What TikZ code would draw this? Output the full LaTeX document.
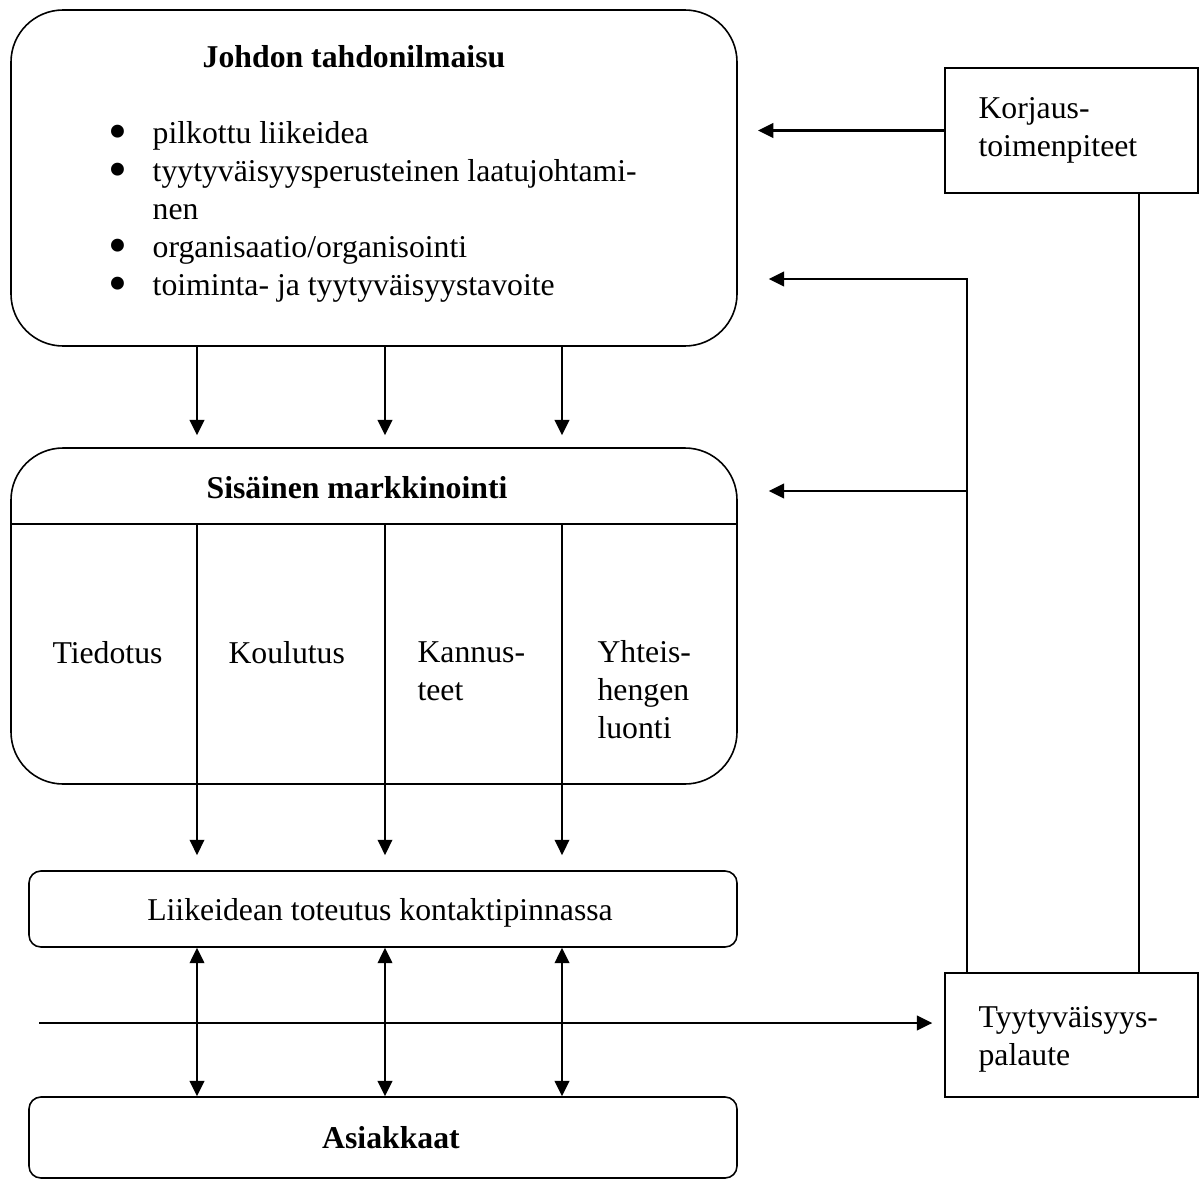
\documentclass[tikz,border=0pt]{standalone}
\usepackage{fontspec}
\usepackage{graphicx}
\setmainfont{Liberation Serif}
\usetikzlibrary{arrows.meta,fit}
\newcommand\mlines[1]{\begin{tabular}[t]{@{}l@{}}#1\end{tabular}}
\newcommand\bul{\makebox[16.7pt][l]{\smash{\raisebox{-2.3pt}{\scalebox{1.7}{\textbullet}}}}}
\begin{document}
\begin{tikzpicture}[x=0.378pt,y=-0.378pt,
  font=\fontsize{12}{14.4}\selectfont,
  box/.style={draw,line width=0.6pt,inner sep=0pt},
  bigbox/.style={box,rounded corners=19.7pt},
  smallbox/.style={box,rounded corners=4.5pt},
  txt/.style={inner sep=0pt,anchor=base west},
  ctxt/.style={inner sep=0pt,anchor=base},
  arr/.style={line width=0.8pt,-{Triangle[length=5.8pt,width=5.5pt]}},
  darr/.style={line width=0.8pt,{Triangle[length=5.8pt,width=5.5pt]}-{Triangle[length=5.8pt,width=5.5pt]}},
  conn/.style={line width=0.6pt}]
\useasboundingbox (0,0) rectangle (1203,1183);

% column positions of the three vertical flows
\coordinate (c1) at (197,0);
\coordinate (c2) at (385,0);
\coordinate (c3) at (562,0);

% management box
\node[bigbox,fit={(11,10)(737,346)}] (johto) {};
\node[ctxt,font=\fontsize{12}{14.4}\selectfont\bfseries] (johtoT) at (354,67) {Johdon tahdonilmaisu};
\node[txt] (lista) at (108,143) {\begin{tabular}[t]{@{}l@{}l@{}}
\bul & pilkottu liikeidea\\
\bul & tyytyväisyysperusteinen laatujohtami-\\
 & nen\\
\bul & organisaatio/organisointi\\
\bul & toiminta- ja tyytyväisyystavoite
\end{tabular}};

% internal marketing box
\node[bigbox,fit={(11,448)(737,784)}] (sm) {};
\coordinate (div) at (0,524);
\draw[conn] (sm.west |- div) -- (sm.east |- div);
\node[ctxt,font=\fontsize{12}{14.4}\selectfont\bfseries] (smT) at (357,498) {Sisäinen markkinointi};
\node[txt] (k1) at (52,663) {Tiedotus};
\node[txt] (k2) at (228,663) {Koulutus};
\node[txt] (k3) at (417,662) {\mlines{Kannus-\\teet}};
\node[txt] (k4) at (597,662) {\mlines{Yhteis-\\hengen\\luonti}};

% implementation and customers
\node[smallbox,fit={(29,871)(737,947)}] (lk) {};
\node[ctxt] (lkT) at (380,920) {Liikeidean toteutus kontaktipinnassa};
\node[smallbox,fit={(29,1097)(737,1178)}] (as) {};
\node[ctxt,font=\fontsize{12}{14.4}\selectfont\bfseries] (asT) at (391,1148) {Asiakkaat};

% right-hand boxes
\node[box,fit={(945,68)(1198,193)}] (korj) {};
\node[txt] (korjT) at (978,118) {\mlines{Korjaus-\\toimenpiteet}};
\node[box,fit={(945,973)(1198,1097)}] (ty) {};
\node[txt] (tyT) at (978,1027) {\mlines{Tyytyväisyys-\\palaute}};

% downward flows
\foreach \c in {c1,c2,c3}{
  \draw[arr,shorten >=4.5pt] (johto.south -| \c) -- (sm.north -| \c);
  \draw[arr,shorten >=5.7pt] (div -| \c) -- (lk.north -| \c);
  \draw[darr] (lk.south -| \c) -- (as.north -| \c);
}

% feedback loop
\coordinate (src) at (39,1023);
\draw[arr,shorten >=4.5pt] (src) -- (src -| ty.west);
\coordinate (fb1) at (967,279);
\coordinate (fb2) at (967,491);
\draw[arr,shorten >=11.7pt] (ty.north -| fb1) -- (fb1) -- (johto.east |- fb1);
\draw[arr,shorten >=11.7pt] (fb2) -- (sm.east |- fb2);
\coordinate (kx) at (1139,0);
\draw[conn] (ty.north -| kx) -- (korj.south -| kx);
\draw[arr,shorten >=7.6pt] (korj.west) -- (johto.east |- korj.west);
\end{tikzpicture}
\end{document}
